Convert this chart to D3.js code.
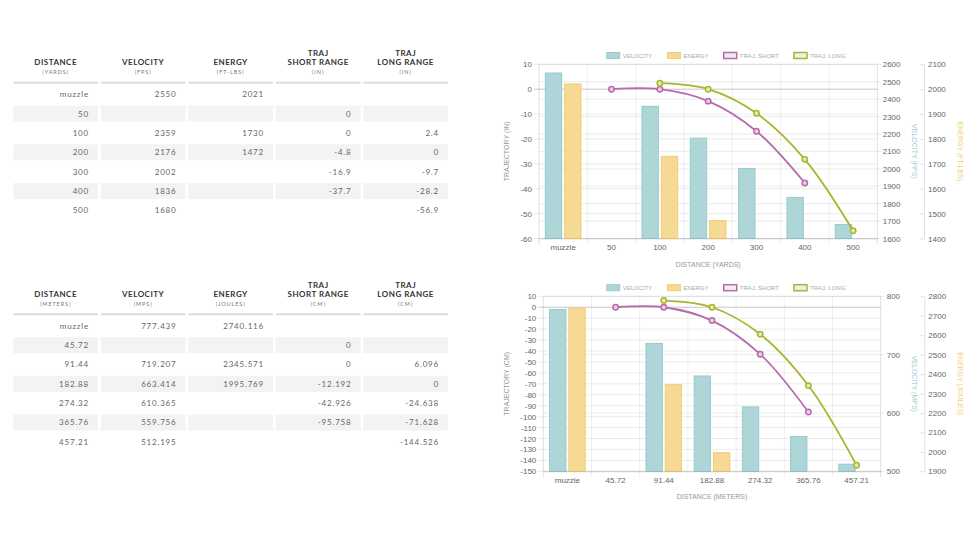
<!DOCTYPE html>
<html>
<head>
<meta charset="utf-8">
<title>Ballistics tables and charts</title>
<style>
  body { margin: 0; background: white; }
  svg { display: block; }
</style>
</head>
<body>
<svg id="page" width="978" height="550"></svg>
<script src="https://d3js.org/d3.v7.min.js"></script>
<script>
// imperial
const yardsLabels = ["muzzle", "50", "100", "200", "300", "400", "500"];
const yardsVelocity = [2550, null, 2359, 2176, 2002, 1836, 1680];
const yardsEnergy = [2021, null, 1730, 1472, null, null, null];
const yardsShort = [null, 0, 0, -4.8, -16.9, -37.7, null];
const yardsLong = [null, null, 2.4, 0, -9.7, -28.2, -56.9];
const yardsTrajTicks = [10, 0, -10, -20, -30, -40, -50, -60];
const yardsVelTicks = [2600, 2500, 2400, 2300, 2200, 2100, 2000, 1900, 1800, 1700, 1600];
const yardsEnTicks = [2100, 2000, 1900, 1800, 1700, 1600, 1500, 1400];
const yardsHeaders = [
  [["DISTANCE"], "(YARDS)"], [["VELOCITY"], "(FPS)"], [["ENERGY"], "(FT-LBS)"],
  [["TRAJ", "SHORT RANGE"], "(IN)"], [["TRAJ", "LONG RANGE"], "(IN)"]
];

// metric
const metersLabels = ["muzzle", "45.72", "91.44", "182.88", "274.32", "365.76", "457.21"];
const metersVelocity = [777.439, null, 719.207, 663.414, 610.365, 559.756, 512.195];
const metersEnergy = [2740.116, null, 2345.571, 1995.769, null, null, null];
const metersShort = [null, 0, 0, -12.192, -42.926, -95.758, null];
const metersLong = [null, null, 6.096, 0, -24.638, -71.628, -144.526];
const metersTrajTicks = [10, 0, -10, -20, -30, -40, -50, -60, -70, -80, -90, -100, -110, -120, -130, -140, -150];
const metersVelTicks = [800, 700, 600, 500];
const metersEnTicks = [2800, 2700, 2600, 2500, 2400, 2300, 2200, 2100, 2000, 1900];
const metersHeaders = [
  [["DISTANCE"], "(METERS)"], [["VELOCITY"], "(MPS)"], [["ENERGY"], "(JOULES)"],
  [["TRAJ", "SHORT RANGE"], "(CM)"], [["TRAJ", "LONG RANGE"], "(CM)"]
];

const legendNames = ["VELOCITY", "ENERGY", "TRAJ. SHORT", "TRAJ. LONG"];

const svg = d3.select("#page");
const tickFont = "'Liberation Sans', Arial, sans-serif";
const tableFont = "Lato, 'Open Sans', sans-serif";

const velFill = "#aed6d8", velStroke = "#97cbcd";
const enFill = "#f5d994", enStroke = "#eecf74";
const shortColor = "#b86aab", longColor = "#a9b52c";

function fmt(v) { return v == null ? "" : String(v); }

function drawTable(y0, headers, columns) {
  const g = svg.append("g");
  const col = d3.scaleBand().domain(d3.range(headers.length))
    .range([13.3, 448]).paddingInner(0.032);
  const rowCount = columns[0].length;
  const row = d3.scaleBand().domain(d3.range(rowCount))
    .range([y0 + 3.6, y0 + 3.6 + 19.33 * (rowCount - 0.17)]).paddingInner(0.17);

  // header
  headers.forEach((h, i) => {
    const cx = col(i) + col.bandwidth() / 2;
    const lines = h[0];
    lines.forEach((t, j) => {
      g.append("text")
        .attr("x", cx).attr("y", y0 - 20.7 - (lines.length - 1 - j) * 9 + 2.9)
        .attr("text-anchor", "middle")
        .attr("font-family", tableFont).attr("font-weight", 700)
        .attr("font-size", 8).attr("letter-spacing", 0.5)
        .attr("fill", "#333").text(t);
    });
    g.append("text")
      .attr("x", cx).attr("y", y0 - 10.3 + 2)
      .attr("text-anchor", "middle")
      .attr("font-family", tableFont).attr("font-size", 5.5)
      .attr("letter-spacing", 0.9).attr("fill", "#777").text(h[1]);
    g.append("rect")
      .attr("x", col(i)).attr("y", y0 - 1).attr("width", col.bandwidth()).attr("height", 2)
      .attr("fill", "#dcdcdc");
  });

  // body
  d3.range(rowCount).forEach(r => {
    columns.forEach((values, i) => {
      if (r % 2 === 1) {
        g.append("rect")
          .attr("x", col(i)).attr("y", row(r)).attr("width", col.bandwidth())
          .attr("height", row.bandwidth()).attr("fill", "#f3f3f3");
      }
      g.append("text")
        .attr("x", col(i) + col.bandwidth() - 9)
        .attr("y", row(r) + row.bandwidth() / 2 + 2.9)
        .attr("text-anchor", "end")
        .attr("font-family", tableFont).attr("font-size", 8)
        .attr("letter-spacing", 0.8).attr("fill", "#666")
        .text(fmt(values[r]));
    });
  });
}

function drawChart(c) {
  const g = svg.append("g");
  const x = d3.scaleBand().domain(c.labels).range([c.left, c.right]);
  const bw = x.bandwidth();
  const xs = d3.scaleBand().domain(["velocity", "energy"])
    .range([bw * 0.1, bw * 0.9]).paddingInner(0.1).paddingOuter(0.05);
  const yT = d3.scaleLinear().domain(d3.extent(c.trajTicks)).range([c.bottom, c.top]);
  const yV = d3.scaleLinear().domain(d3.extent(c.velTicks)).range([c.bottom, c.top]);
  const yE = d3.scaleLinear().domain(d3.extent(c.enTicks)).range([c.bottom, c.top]);
  const plain = d => String(d);

  // grid
  g.append("g").selectAll("line").data(c.velTicks).join("line")
    .attr("x1", c.left).attr("x2", c.right + 4)
    .attr("y1", d => yV(d)).attr("y2", d => yV(d))
    .attr("stroke", "rgba(0,0,0,0.08)");
  g.append("g").selectAll("line").data(c.trajTicks).join("line")
    .attr("x1", c.left - 5).attr("x2", c.right)
    .attr("y1", d => yT(d)).attr("y2", d => yT(d))
    .attr("stroke", d => d === 0 ? "rgba(0,0,0,0.22)" : "rgba(0,0,0,0.08)");
  const bounds = c.labels.map(l => x(l)).concat([c.right]);
  g.append("g").selectAll("line").data(bounds).join("line")
    .attr("x1", d => d).attr("x2", d => d)
    .attr("y1", c.top).attr("y2", c.bottom + 6)
    .attr("stroke", (d, i) => (i === 0 || i === bounds.length - 1) ? "rgba(0,0,0,0.12)" : "rgba(0,0,0,0.06)");

  // bars
  const bars = [
    { key: "velocity", values: c.velocity, y: yV, fill: velFill, stroke: velStroke },
    { key: "energy", values: c.energy, y: yE, fill: enFill, stroke: enStroke }
  ];
  bars.forEach(s => {
    const pts = c.labels.map((l, i) => ({ l, v: s.values[i] })).filter(d => d.v != null);
    g.append("g").selectAll("rect").data(pts).join("rect")
      .attr("x", d => x(d.l) + xs(s.key) + 0.5)
      .attr("width", xs.bandwidth() - 1)
      .attr("y", d => s.y(d.v))
      .attr("height", d => c.bottom - s.y(d.v))
      .attr("fill", s.fill).attr("stroke", s.stroke).attr("stroke-width", 1);
  });

  // lines
  const lines = [
    { values: c.short, color: shortColor, pfill: "#e9cfe4" },
    { values: c.long, color: longColor, pfill: "#e6eab2" }
  ];
  const line = d3.line()
    .defined(d => d.v != null)
    .x(d => x(d.l) + bw / 2)
    .y(d => yT(d.v))
    .curve(d3.curveCatmullRom.alpha(0.5));
  lines.forEach(s => {
    const pts = c.labels.map((l, i) => ({ l, v: s.values[i] }));
    g.append("path").datum(pts)
      .attr("d", line).attr("fill", "none")
      .attr("stroke", s.color).attr("stroke-width", 1.8);
    g.append("g").selectAll("circle").data(pts.filter(d => d.v != null)).join("circle")
      .attr("cx", d => x(d.l) + bw / 2).attr("cy", d => yT(d.v)).attr("r", 2.7)
      .attr("fill", s.pfill).attr("stroke", s.color).attr("stroke-width", 1.5);
  });

  // axes
  const styleAxis = sel => {
    sel.selectAll("text").attr("font-family", tickFont).attr("font-size", 8).attr("fill", "#666");
    sel.selectAll(".tick line").attr("stroke", "rgba(0,0,0,0.12)");
    sel.select(".domain").attr("stroke", "rgba(0,0,0,0.12)");
  };
  g.append("g").attr("transform", `translate(0,${c.bottom})`)
    .call(d3.axisBottom(x).tickSize(0).tickPadding(6.3))
    .call(styleAxis);
  g.append("g").attr("transform", `translate(${c.left},0)`)
    .call(d3.axisLeft(yT).tickValues(c.trajTicks).tickFormat(plain).tickSize(0).tickPadding(7))
    .call(styleAxis).call(s => s.select(".domain").remove());
  g.append("g").attr("transform", `translate(${c.right},0)`)
    .call(d3.axisRight(yV).tickValues(c.velTicks).tickFormat(plain).tickSize(0).tickPadding(c.velPad))
    .call(styleAxis).call(s => s.select(".domain").remove());
  g.append("g").attr("transform", `translate(${c.axis2X},0)`)
    .call(d3.axisRight(yE).tickValues(c.enTicks).tickFormat(plain).tickSizeInner(-4).tickSizeOuter(0).tickPadding(4))
    .call(styleAxis);

  // titles
  const midY = (c.top + c.bottom) / 2;
  const title = (tx, ty, rot, text, color) => g.append("text")
    .attr("transform", `translate(${tx},${ty}) rotate(${rot})`)
    .attr("text-anchor", "middle").attr("dy", "0.35em")
    .attr("font-family", tickFont).attr("font-size", 7)
    .attr("fill", color).text(text);
  title((c.left + c.right) / 2, c.bottom + 25.6, 0, c.titles[0], "#999");
  title(506.7, midY, -90, c.titles[1], "#999");
  title(914, midY, 90, c.titles[2], "#9fd0d3");
  title(960.5, midY, 90, c.titles[3], "#f0d170");

  // legend
  const kinds = [
    { fill: velFill, stroke: velStroke, sw: 1 },
    { fill: enFill, stroke: enStroke, sw: 1 },
    { fill: "#eeeeee", stroke: shortColor, sw: 1.5 },
    { fill: "#eeeeee", stroke: longColor, sw: 1.5 }
  ];
  const lg = g.append("g");
  let cx = 0;
  legendNames.forEach((name, i) => {
    const item = lg.append("g").attr("transform", `translate(${cx},0)`);
    item.append("rect").attr("x", 0).attr("y", -3).attr("width", 13).attr("height", 6)
      .attr("fill", kinds[i].fill).attr("stroke", kinds[i].stroke).attr("stroke-width", kinds[i].sw);
    const t = item.append("text").attr("x", 16).attr("y", 2.1)
      .attr("font-family", tickFont).attr("font-size", 6).attr("fill", "#aaa").text(name);
    cx += 16 + t.node().getComputedTextLength() + 15;
  });
  lg.attr("transform", `translate(${726 - (cx - 15) / 2},${c.legendY})`);
}

drawTable(82.7, yardsHeaders, [yardsLabels, yardsVelocity, yardsEnergy, yardsShort, yardsLong]);
drawTable(314.3, metersHeaders, [metersLabels, metersVelocity, metersEnergy, metersShort, metersLong]);

drawChart({
  labels: yardsLabels, velocity: yardsVelocity, energy: yardsEnergy,
  short: yardsShort, long: yardsLong,
  trajTicks: yardsTrajTicks, velTicks: yardsVelTicks, enTicks: yardsEnTicks,
  titles: ["DISTANCE (YARDS)", "TRAJECTORY (IN)", "VELOCITY (FPS)", "ENERGY (FT-LBS)"],
  left: 539, right: 877.3, top: 64.3, bottom: 238.5, axis2X: 924, velPad: 5.4, legendY: 55.5
});
drawChart({
  labels: metersLabels, velocity: metersVelocity, energy: metersEnergy,
  short: metersShort, long: metersLong,
  trajTicks: metersTrajTicks, velTicks: metersVelTicks, enTicks: metersEnTicks,
  titles: ["DISTANCE (METERS)", "TRAJECTORY (CM)", "VELOCITY (MPS)", "ENERGY (JOULES)"],
  left: 543.3, right: 880.7, top: 296.3, bottom: 471.3, axis2X: 924.3, velPad: 6, legendY: 287.7
});
</script>
</body>
</html>
